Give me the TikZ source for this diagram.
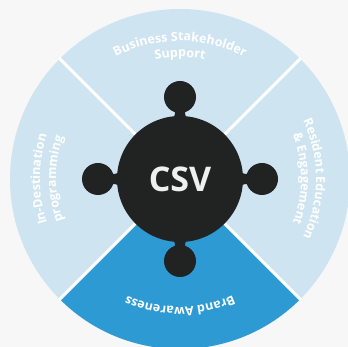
\documentclass[tikz,border=0pt]{standalone}
\usepackage{fontspec}
\setmainfont{Open Sans}
\usetikzlibrary{decorations.text}

\definecolor{bgGrey}{HTML}{F7F7F7}
\definecolor{paleBlue}{HTML}{CFE4F1}
\definecolor{deepBlue}{HTML}{2D9AD4}
\definecolor{hubBlack}{HTML}{212322}
\definecolor{hubText}{HTML}{EFEFEF}

\newfontfamily\labelfamily{Open Sans}
\newcommand{\labelfont}{\labelfamily\bfseries\fontsize{12.5}{14}\selectfont}

\tikzset{
  curvedlabel/.style={decorate, decoration={text along path, text align=center, text color=white}},
  sector/.style={fill=paleBlue},
  divider/.style={draw=white, line width=3pt},
  knob/.style={fill=hubBlack}
}

\begin{document}
\begin{tikzpicture}[x=1pt, y=1pt]
  \useasboundingbox (0,0) rectangle (348,347);
  \clip (0,0) rectangle (348,347);
  \fill[bgGrey] (0,0) rectangle (348,347);
  \coordinate (c) at (180,168);

  % sectors of the wheel
  \fill[sector] (c) circle[radius=170];
  \fill[deepBlue] (c) -- ++(225:170) arc[start angle=225, end angle=315, radius=170] -- cycle;
  \foreach \a in {45,135,225,315}
    \draw[divider] (c) -- ++(\a:171);

  % hub with four knobs
  \foreach \a in {0,90,180,270} {
    \begin{scope}[shift={(c)}, rotate=\a]
      \fill[knob] (0,82) circle[radius=16];
      \fill[knob] (-14,56) .. controls (-6,60) and (-5,63) .. (-5,67)
        .. controls (-5,70) and (-7,72) .. (-12,75) -- (12,75)
        .. controls (7,72) and (5,70) .. (5,67)
        .. controls (5,63) and (6,60) .. (14,56) -- cycle;
    \end{scope}
  }
  \node[circle, fill=hubBlack, minimum size=126pt, inner sep=0pt, text=hubText,
        font=\fontsize{34}{38}\selectfont\bfseries] (csv) at (c) {CSV};

  % curved labels
  \path[curvedlabel, decoration={text={|\labelfont|Business Stakeholder}}]
    ([shift={(160:138)}]c) arc[start angle=160, end angle=20, radius=138];
  \path[curvedlabel, decoration={text={|\labelfont|Support}}]
    ([shift={(160:122)}]c) arc[start angle=160, end angle=20, radius=122];
  \path[curvedlabel, decoration={text={|\labelfont|Resident Education}}]
    ([shift={(70:136)}]c) arc[start angle=70, end angle=-70, radius=136];
  \path[curvedlabel, decoration={text={|\labelfont|{\&} Engagement}}]
    ([shift={(70:121)}]c) arc[start angle=70, end angle=-70, radius=121];
  \path[curvedlabel, decoration={text={|\labelfont|Brand Awareness}}]
    ([shift={(-20:128)}]c) arc[start angle=-20, end angle=-160, radius=128];
  \path[curvedlabel, decoration={text={|\labelfont|In-Destination}}]
    ([shift={(250:140)}]c) arc[start angle=250, end angle=110, radius=140];
  \path[curvedlabel, decoration={text={|\labelfont|programming}}]
    ([shift={(250:124)}]c) arc[start angle=250, end angle=110, radius=124];
\end{tikzpicture}
\end{document}
